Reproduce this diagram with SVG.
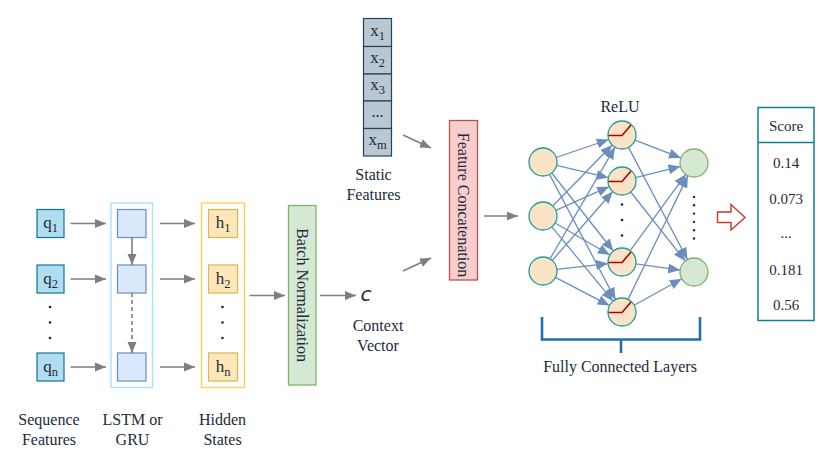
<svg xmlns="http://www.w3.org/2000/svg" width="832" height="462" viewBox="0 0 832 462">
<defs>
<marker id="ga" markerUnits="userSpaceOnUse" markerWidth="12" markerHeight="10" refX="11" refY="5" orient="auto"><path d="M0,0.5 L11,5 L0,9.5 Z" fill="#7f7f7f"/></marker>
<marker id="ba" markerUnits="userSpaceOnUse" markerWidth="13" markerHeight="11" refX="12" refY="5.5" orient="auto"><path d="M0,0.5 L12,5.5 L0,10.5 Z" fill="#6c8ebf"/></marker>
<style>
text{font-family:"Liberation Serif","Times New Roman",serif;fill:#1c2b39;font-size:16px}
.c{text-anchor:middle}
.bx{font-size:17px}
.sub{font-size:12.5px}
.g{stroke:#7f7f7f;stroke-width:1.6;fill:none;marker-end:url(#ga)}
.b{stroke:#6c8ebf;stroke-width:1.3;fill:none;marker-end:url(#ba)}
.q{fill:#b1ddf0;stroke:#10739e;stroke-width:1.2}
.l{fill:#dae8fc;stroke:#6c8ebf;stroke-width:1.2}
.h{fill:#fde7b8;stroke:#d6b656;stroke-width:1.2}
.x{fill:#bac8d3;stroke:#23445d;stroke-width:1.2}
.n{fill:#fae3c6;stroke:#1f9e96;stroke-width:1.3}
.o{fill:#d5e8d4;stroke:#82b366;stroke-width:1.3}
.r{fill:none;stroke:#b20000;stroke-width:1.6}
.dot{fill:#1c2b39}
</style>
</defs>
<rect width="832" height="462" fill="#ffffff"/>

<g id="sequence">
<rect class="q" x="37" y="209.5" width="27" height="28"/>
<text class="c bx" x="50.5" y="228">q<tspan class="sub" dy="4">1</tspan></text>
<rect class="q" x="37" y="265" width="27" height="28"/>
<text class="c bx" x="50.5" y="283.5">q<tspan class="sub" dy="4">2</tspan></text>
<rect class="q" x="37" y="353" width="27" height="28"/>
<text class="c bx" x="50.5" y="371.5">q<tspan class="sub" dy="4">n</tspan></text>
<circle class="dot" cx="50" cy="307" r="1.3"/><circle class="dot" cx="50" cy="322.5" r="1.3"/><circle class="dot" cx="50" cy="338" r="1.3"/>
<text class="c" x="49" y="425">Sequence</text>
<text class="c" x="49" y="445">Features</text>
</g>

<g id="lstm">
<rect x="111" y="203" width="41.5" height="184.5" fill="#ffffff" stroke="#a6e3f8" stroke-width="1.4"/>
<rect class="l" x="117.5" y="209.5" width="28.5" height="28"/>
<rect class="l" x="117.5" y="265" width="28.5" height="28"/>
<rect class="l" x="117.5" y="353" width="28.5" height="28"/>
<text class="c" x="132.5" y="425">LSTM or</text>
<text class="c" x="132.5" y="445">GRU</text>
</g>

<g id="hidden">
<rect x="201.5" y="203" width="43" height="184.5" fill="#ffffff" stroke="#ffd24d" stroke-width="1.4"/>
<rect class="h" x="208.5" y="209.5" width="29" height="28"/>
<text class="c bx" x="223" y="228">h<tspan class="sub" dy="4">1</tspan></text>
<rect class="h" x="208.5" y="265" width="29" height="28"/>
<text class="c bx" x="223" y="283.5">h<tspan class="sub" dy="4">2</tspan></text>
<rect class="h" x="208.5" y="353" width="29" height="28"/>
<text class="c bx" x="223" y="371.5">h<tspan class="sub" dy="4">n</tspan></text>
<circle class="dot" cx="222.5" cy="307" r="1.3"/><circle class="dot" cx="222.5" cy="322.5" r="1.3"/><circle class="dot" cx="222.5" cy="338" r="1.3"/>
<text class="c" x="222.5" y="425">Hidden</text>
<text class="c" x="222.5" y="445">States</text>
</g>

<g id="batchnorm">
<rect x="288.5" y="205.5" width="27.5" height="179.5" fill="#d5e8d4" stroke="#82b366" stroke-width="1.3"/>
<text class="c" transform="translate(302,295) rotate(90)" y="5.5">Batch Normalization</text>
</g>

<g id="context">
<text class="c" x="366" y="301" style="font-family:'DejaVu Sans',sans-serif;font-style:italic;font-size:20px">c</text>
<text class="c" x="378" y="331">Context</text>
<text class="c" x="378" y="351">Vector</text>
</g>

<g id="static">
<rect class="x" x="363.5" y="18.5" width="28" height="28"/>
<rect class="x" x="363.5" y="46.5" width="28" height="27.5"/>
<rect class="x" x="363.5" y="74" width="28" height="27"/>
<rect class="x" x="363.5" y="101" width="28" height="27.5"/>
<rect class="x" x="363.5" y="128.5" width="28" height="27.5"/>
<text class="c bx" x="377.5" y="35.5">x<tspan class="sub" dy="4">1</tspan></text>
<text class="c bx" x="377.5" y="63">x<tspan class="sub" dy="4">2</tspan></text>
<text class="c bx" x="377.5" y="90">x<tspan class="sub" dy="4">3</tspan></text>
<text class="c" x="377.5" y="117">...</text>
<text class="c bx" x="377.5" y="145">x<tspan class="sub" dy="4">m</tspan></text>
<text class="c" x="373.5" y="180">Static</text>
<text class="c" x="373.5" y="200">Features</text>
</g>

<g id="concat">
<rect x="449.5" y="120.5" width="28" height="159.5" fill="#f8cecc" stroke="#b85450" stroke-width="1.3"/>
<text class="c" transform="translate(463.5,205) rotate(90)" y="5.5">Feature Concatenation</text>
</g>

<g id="fc">
<text class="c" x="620" y="112">ReLU</text>
<circle class="n" cx="543" cy="162" r="14"/>
<circle class="n" cx="543" cy="216" r="14"/>
<circle class="n" cx="543" cy="271" r="14"/>
<circle class="n" cx="622" cy="135" r="14"/>
<circle class="n" cx="622" cy="181" r="14"/>
<circle class="n" cx="622" cy="262" r="14"/>
<circle class="n" cx="622" cy="312" r="14"/>
<polyline class="r" points="608.5,135.5 622,135.5 631,125"/>
<polyline class="r" points="608.5,181.5 622,181.5 631,171"/>
<polyline class="r" points="608.5,262.5 622,262.5 631,252"/>
<polyline class="r" points="608.5,312.5 622,312.5 631,302"/>
<circle class="dot" cx="622" cy="204.5" r="1.3"/><circle class="dot" cx="622" cy="220" r="1.3"/><circle class="dot" cx="622" cy="235.5" r="1.3"/>
<circle class="o" cx="694" cy="163" r="14"/>
<circle class="o" cx="694" cy="272" r="14"/>
<circle class="dot" cx="694" cy="197" r="1.2"/><circle class="dot" cx="694" cy="205.3" r="1.2"/><circle class="dot" cx="694" cy="213.6" r="1.2"/><circle class="dot" cx="694" cy="221.9" r="1.2"/><circle class="dot" cx="694" cy="230.2" r="1.2"/><circle class="dot" cx="694" cy="238.5" r="1.2"/>
<path d="M542,317 V339.5 H700 V317 M621,339.5 V353" fill="none" stroke="#1f6fb5" stroke-width="2.6"/>
<text class="c" x="620" y="372">Fully Connected Layers</text>
</g>

<g id="output-arrow">
<path d="M717.5,212 H731 V204.5 L745,217.5 L731,230 V222.5 H717.5 Z" fill="#ffffff" stroke="#c0392b" stroke-width="1.4"/>
</g>

<g id="score">
<rect x="758" y="107.5" width="56" height="213" fill="#ffffff" stroke="#0e8088" stroke-width="1.5"/>
<line x1="758" y1="142.5" x2="814" y2="142.5" stroke="#0e8088" stroke-width="1.5"/>
<text class="c" x="786" y="131" style="font-size:15px">Score</text>
<text class="c" x="786" y="168" style="font-size:15px">0.14</text>
<text class="c" x="786" y="203.5" style="font-size:15px">0.073</text>
<text class="c" x="786" y="238" style="font-size:15px">...</text>
<text class="c" x="786" y="275" style="font-size:15px">0.181</text>
<text class="c" x="786" y="310" style="font-size:15px">0.56</text>
</g>

<g id="connectors">
<line class="g" x1="70.5" y1="223.5" x2="106" y2="223.5"/>
<line class="g" x1="70.5" y1="279" x2="106" y2="279"/>
<line class="g" x1="70.5" y1="367" x2="106" y2="367"/>
<line class="g" x1="132" y1="237.5" x2="132" y2="265"/>
<line class="g" x1="132" y1="293" x2="132" y2="353" stroke-dasharray="4,3"/>
<line class="g" x1="160" y1="223.5" x2="195" y2="223.5"/>
<line class="g" x1="160" y1="279" x2="195" y2="279"/>
<line class="g" x1="160" y1="367" x2="195" y2="367"/>
<line class="g" x1="249.5" y1="295.5" x2="285" y2="295.5"/>
<line class="g" x1="320" y1="295.5" x2="356" y2="295.5"/>
<line class="g" x1="403" y1="135" x2="431" y2="148"/>
<line class="g" x1="403" y1="271" x2="431" y2="258"/>
<line class="g" x1="484" y1="216" x2="518" y2="216"/>
<line class="b" x1="556.2" y1="157.5" x2="608.8" y2="139.5"/>
<line class="b" x1="556.6" y1="165.3" x2="608.4" y2="177.7"/>
<line class="b" x1="551.7" y1="173" x2="613.3" y2="251"/>
<line class="b" x1="549.5" y1="174.4" x2="615.5" y2="299.6"/>
<line class="b" x1="552.8" y1="206" x2="612.2" y2="145"/>
<line class="b" x1="555.8" y1="210.3" x2="609.2" y2="186.7"/>
<line class="b" x1="555.1" y1="223" x2="609.9" y2="255"/>
<line class="b" x1="551.9" y1="226.8" x2="613.1" y2="301.2"/>
<line class="b" x1="550" y1="258.9" x2="615" y2="147.1"/>
<line class="b" x1="552.2" y1="260.5" x2="612.8" y2="191.5"/>
<line class="b" x1="556.9" y1="269.4" x2="608.1" y2="263.6"/>
<line class="b" x1="555.4" y1="277.4" x2="609.6" y2="305.6"/>
<line class="b" x1="635" y1="140.1" x2="680.9" y2="157.9"/>
<line class="b" x1="628.5" y1="147.4" x2="687.5" y2="259.6"/>
<line class="b" x1="635.6" y1="177.6" x2="680.4" y2="166.4"/>
<line class="b" x1="630.7" y1="192" x2="685.3" y2="261"/>
<line class="b" x1="630.2" y1="250.7" x2="685.8" y2="174.3"/>
<line class="b" x1="635.9" y1="263.9" x2="680.1" y2="270.1"/>
<line class="b" x1="628.1" y1="299.4" x2="687.9" y2="175.6"/>
<line class="b" x1="634.2" y1="305.2" x2="681.8" y2="278.8"/>
</g>
</svg>
